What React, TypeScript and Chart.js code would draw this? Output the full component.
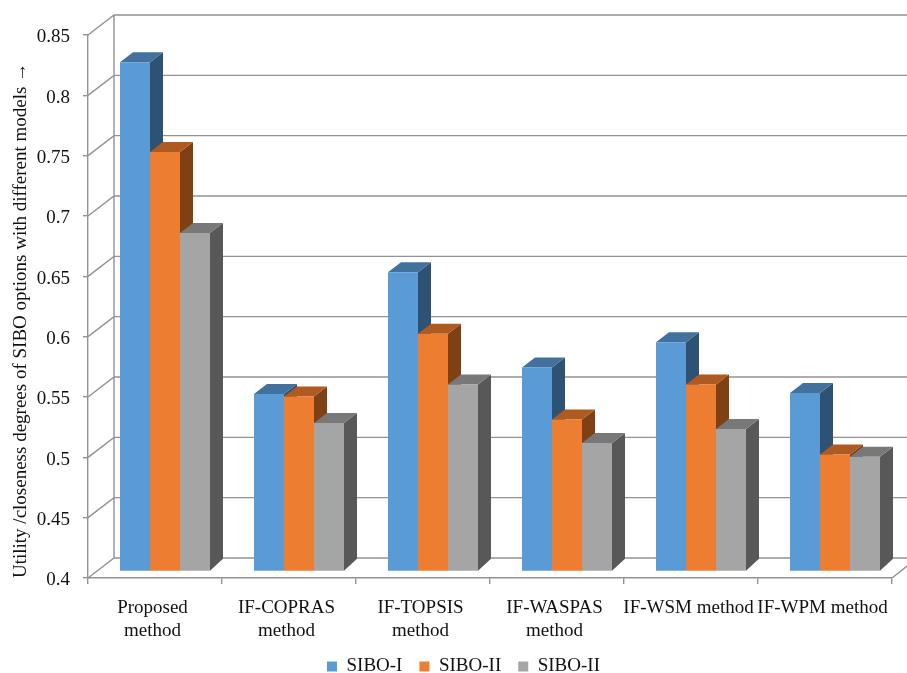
import React, { useEffect, useRef } from "react";
import { Chart, registerables } from "chart.js";

Chart.register(...registerables);

const categories = [
  ["Proposed", "method"],
  ["IF-COPRAS", "method"],
  ["IF-TOPSIS", "method"],
  ["IF-WASPAS", "method"],
  "IF-WSM method",
  "IF-WPM method",
];

const sibo1 = [0.822, 0.547, 0.648, 0.569, 0.59, 0.548];
const sibo2 = [0.7477, 0.545, 0.597, 0.526, 0.555, 0.497];
const sibo3 = [0.6805, 0.523, 0.555, 0.5065, 0.518, 0.495];

const seriesNames = ["SIBO-I", "SIBO-II", "SIBO-II"];
const frontColors = ["#5B9BD5", "#ED7D31", "#A5A5A5"];
const topColors = ["#41719C", "#AE5A21", "#787878"];
const sideColors = ["#2E5274", "#7F4014", "#585858"];

const FONT = "'Liberation Serif', 'Times New Roman', serif";
const FONT_SIZE = 19;
const LINE = "#929292";
const TEXT = "#111111";
const AXIS_MIN = 0.4;
const AXIS_MAX = 0.85;

// Offsets that give the flat bar chart its box-like depth.
const WALL = { x: 26, y: -20 };
const BAR_PLANE = { x: 10, y: -6.5 };
const BAR_DEPTH = { x: 13, y: -10 };
const BAR_FOOT_DEPTH_Y = -12;

const walls3d = {
  id: "walls3d",
  beforeDatasetsDraw(chart: any) {
    const { ctx, scales, chartArea, width } = chart;
    const y = scales.y;
    const left = chartArea.left;
    const right = chartArea.right;
    ctx.save();
    ctx.strokeStyle = LINE;
    ctx.lineWidth = 1.4;
    ctx.beginPath();
    for (const tick of y.ticks) {
      const py = y.getPixelForValue(tick.value);
      ctx.moveTo(left, py);
      ctx.lineTo(left + WALL.x, py + WALL.y);
      ctx.lineTo(width, py + WALL.y);
    }
    ctx.moveTo(left + WALL.x, chartArea.top + WALL.y);
    ctx.lineTo(left + WALL.x, chartArea.bottom + WALL.y);
    ctx.moveTo(right, chartArea.bottom);
    ctx.lineTo(width, chartArea.bottom - 12);
    ctx.stroke();

    // Bar sides and tops go down first, so each front face covers its left neighbour's side.
    ctx.translate(BAR_PLANE.x, BAR_PLANE.y);
    chart.data.datasets.forEach((_: any, i: number) => {
      for (const bar of chart.getDatasetMeta(i).data) {
        const { x, y: top, base, width: w } = bar.getProps(["x", "y", "base", "width"], true);
        const r = x + w / 2;
        const l = x - w / 2;
        ctx.fillStyle = sideColors[i];
        ctx.beginPath();
        ctx.moveTo(r, top);
        ctx.lineTo(r + BAR_DEPTH.x, top + BAR_DEPTH.y);
        ctx.lineTo(r + BAR_DEPTH.x, base + BAR_FOOT_DEPTH_Y);
        ctx.lineTo(r, base);
        ctx.closePath();
        ctx.fill();
        ctx.fillStyle = topColors[i];
        ctx.beginPath();
        ctx.moveTo(l, top);
        ctx.lineTo(l + BAR_DEPTH.x, top + BAR_DEPTH.y);
        ctx.lineTo(r + BAR_DEPTH.x, top + BAR_DEPTH.y);
        ctx.lineTo(r, top);
        ctx.closePath();
        ctx.fill();
      }
    });
    ctx.restore();
    ctx.save();
    ctx.translate(BAR_PLANE.x, BAR_PLANE.y);
  },
  afterDatasetsDraw(chart: any) {
    chart.ctx.restore();
  },
};

export default function App() {
  const canvasRef = useRef<HTMLCanvasElement | null>(null);

  useEffect(() => {
    const chart = new Chart(canvasRef.current as HTMLCanvasElement, {
      type: "bar",
      data: {
        labels: categories,
        datasets: [sibo1, sibo2, sibo3].map((values, i) => ({
          label: seriesNames[i],
          data: values,
          base: AXIS_MIN,
          backgroundColor: frontColors[i],
          borderWidth: 0,
          clip: false,
          barPercentage: 1,
          categoryPercentage: 90 / 134,
        })),
      } as any,
      options: {
        responsive: false,
        animation: false,
        layout: { padding: { left: 35, right: 15, top: 35, bottom: -13 } },
        plugins: {
          tooltip: { enabled: false },
          legend: {
            position: "bottom",
            labels: {
              boxWidth: 10,
              boxHeight: 10,
              padding: 17,
              color: TEXT,
              font: { family: FONT, size: FONT_SIZE },
            },
          },
        },
        scales: {
          x: {
            afterFit(scale: any) {
              scale.height = 62;
            },
            grid: { offset: true, drawOnChartArea: false, tickLength: 6, color: LINE, lineWidth: 1.4 },
            border: { color: LINE, width: 1.4 },
            ticks: {
              autoSkip: false,
              maxRotation: 0,
              padding: 13,
              labelOffset: -2.5,
              color: TEXT,
              font: { family: FONT, size: FONT_SIZE },
            },
          },
          y: {
            min: AXIS_MIN,
            max: AXIS_MAX,
            afterFit(scale: any) {
              scale.width = 53;
            },
            grid: { drawOnChartArea: false, tickLength: 5, color: LINE, lineWidth: 1.4 },
            border: { color: LINE, width: 1.4 },
            ticks: {
              stepSize: 0.05,
              padding: 13,
              labelOffset: 2.5,
              color: TEXT,
              font: { family: FONT, size: FONT_SIZE },
              callback: (v: any) => String(Number(Number(v).toFixed(2))),
            },
            title: {
              display: true,
              text: "Utility /closeness degrees of SIBO options with different models \u2192",
              align: "start",
              color: TEXT,
              font: { family: FONT, size: FONT_SIZE },
              padding: { top: -25, bottom: 0 },
            },
          },
        },
      },
      plugins: [walls3d],
    } as any);
    return () => chart.destroy();
  }, []);

  return (
    <div style={{ position: "fixed", left: 0, top: 0, width: 907, height: 673, background: "#fff" }}>
      <canvas ref={canvasRef} width={907} height={673} style={{ display: "block" }} />
    </div>
  );
}
